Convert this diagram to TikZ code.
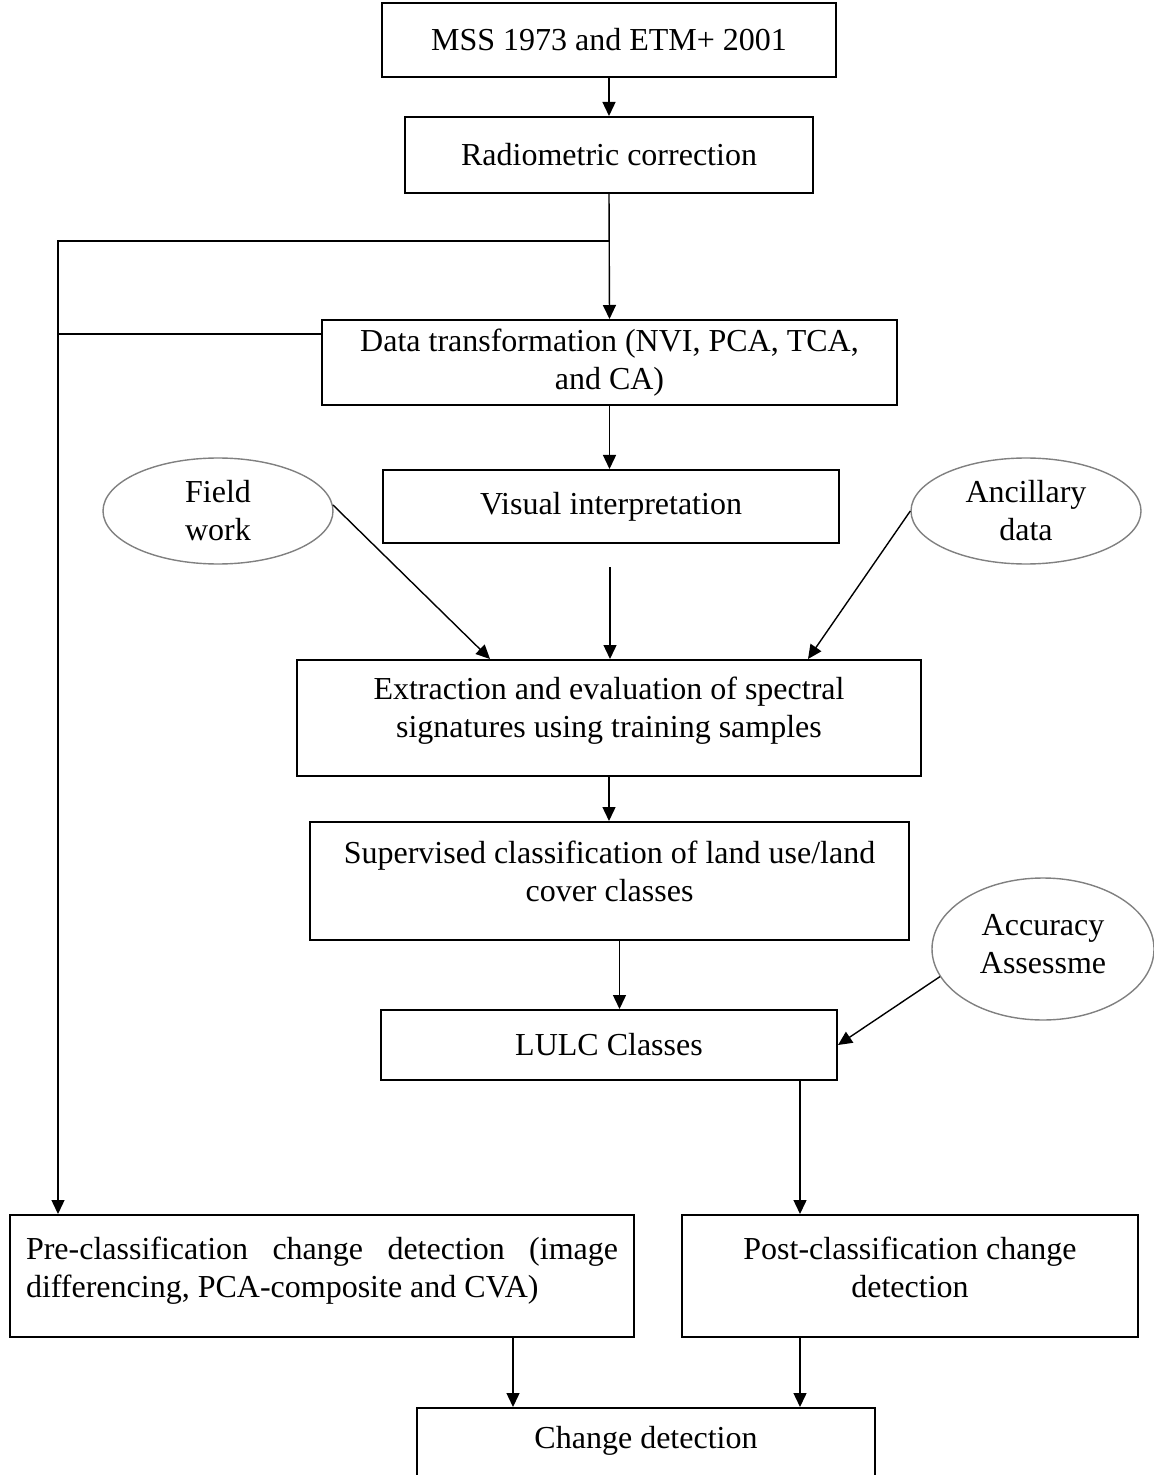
\documentclass[tikz,border=0pt]{standalone}
\usepackage{fontspec}
\setmainfont{Liberation Serif}
\usetikzlibrary{arrows.meta,positioning,calc,shapes.geometric}

\begin{document}
\begin{tikzpicture}[->, >={Triangle[length=7pt,width=6.5pt]}, x=0.5pt, y=-0.5pt, line width=0.7pt]
	\tikzstyle{every node}=[font=\fontsize{16}{19}\selectfont]
	\tikzstyle{box}=[draw=black, line width=1pt, rectangle, align=center, inner sep=0pt]
	\tikzstyle{blob}=[draw=black!50, line width=0.7pt, ellipse, align=center, inner sep=0pt]
	\useasboundingbox (0,0) rectangle (1153,1475);

	\node[box, minimum width=227pt, minimum height=37pt]   (mss)     at (609,40)     {MSS 1973 and ETM+ 2001};
	\node[box, minimum width=204pt, minimum height=38pt]   (radio)   at (609,155)    {Radiometric correction};
	\node[box, minimum width=287.5pt, minimum height=42.5pt] (trans) at (609.5,362.5) {Data transformation (NVI, PCA, TCA,\\ and CA)};
	\node[box, minimum width=228pt, minimum height=36.5pt] (visual)  at (611,506.5)  {Visual interpretation};
	\node[box, minimum width=312pt, minimum height=58pt, text depth=10.5pt] (extract) at (609,718) {Extraction and evaluation of spectral\\ signatures using training samples};
	\node[box, minimum width=299.5pt, minimum height=59pt, text depth=9.9pt] (superv) at (609.5,881) {Supervised classification of land use/land\\ cover classes};
	\node[box, minimum width=228pt, minimum height=35pt]   (lulc)    at (609,1045)   {LULC Classes};
	\node[box, minimum width=312pt, minimum height=61pt, text width=296pt, align=justify, text depth=27.5pt] (pre) at (322,1276)
		{\hyphenpenalty=10000 Pre-classification change detection (image \mbox{differencing}, PCA-composite and CVA)};
	\node[box, minimum width=228pt, minimum height=61pt, text depth=8.4pt] (post) at (910,1276) {Post-classification change\\ detection};
	\node[box, minimum width=229pt, minimum height=54pt, anchor=north] (change) at (646,1407) {Change detection\\ \strut};

	% ellipses
	\node[blob, minimum width=115pt, minimum height=53pt] (field) at (218,511)  {Field\\ work};
	\node[blob, minimum width=115pt, minimum height=53pt] (ancil) at (1026,511) {Ancillary\\ data};
	\node[blob, minimum width=111pt, minimum height=71pt, text depth=5pt] (accur) at (1043,949) {Accuracy\\ Assessme};

	\coordinate (split) at (609,241);
	\coordinate (bend)  at (58,241);
	\coordinate (joint) at (58,334);
	\coordinate (gap)   at (610,567);

	\draw (mss) -- (radio);
	\draw (radio.south) -- (trans.north);
	\draw (split) -- (bend) -- (bend |- pre.north);
	\draw[-] (trans.west |- joint) -- (joint);
	\draw (trans.south) -- (trans.south |- visual.north);
	\draw (gap) -- (gap |- extract.north);
	\draw (field.3) -- ([xshift=-59.5pt]extract.north);
	\draw (ancil.west) -- ([xshift=99.5pt]extract.north);
	\draw (extract.south) -- (extract.south |- superv.north);
	\draw ([xshift=5pt]superv.south) coordinate (s1) -- (s1 |- lulc.north);
	\draw (accur.195) -- (lulc.east);
	\draw ([xshift=95.5pt]lulc.south) coordinate (l1) -- (l1 |- post.north);
	\draw ([xshift=95.5pt]pre.south) coordinate (p1) -- (p1 |- change.north);
	\draw ([xshift=-55pt]post.south) coordinate (q1) -- (q1 |- change.north);
\end{tikzpicture}
\end{document}
